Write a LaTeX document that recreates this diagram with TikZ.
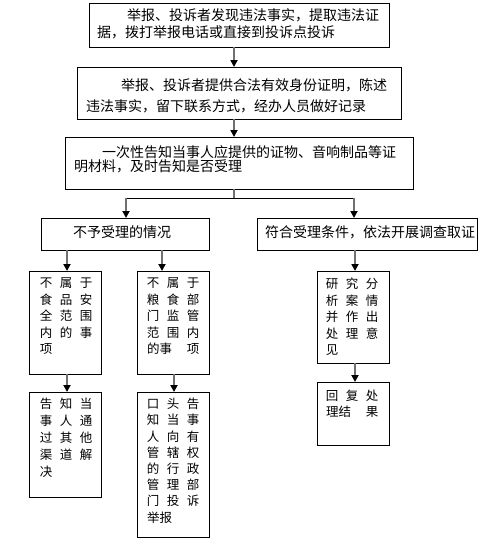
\documentclass[tikz,border=0pt]{standalone}
\usepackage{fontspec}
\newfontfamily\cjk{Noto Sans CJK SC}
\usetikzlibrary{arrows.meta}
\definecolor{ln}{RGB}{112,112,112}
\newcommand\cel[1]{\makebox[20pt]{#1}}
\newcommand\pair[1]{\makebox[40pt][l]{\hspace{4pt}#1}}
\begin{document}
\begin{tikzpicture}[x=1pt,y=-1pt,
 box/.style={draw=black,line width=1pt,anchor=north west,inner sep=0pt,outer sep=0pt},
 big/.style={anchor=west,inner sep=0pt,font=\cjk\fontsize{14pt}{16pt}\selectfont},
 mid/.style={anchor=center,inner sep=0pt,font=\cjk\fontsize{14pt}{16pt}\selectfont},
 sm/.style={anchor=west,inner sep=0pt,font=\cjk\fontsize{12.5pt}{15pt}\selectfont},
 arr/.style={draw=ln,line width=2pt,-{Triangle[width=7pt,length=7pt,color=black]}},
 stub/.style={draw=ln,line width=2pt},
 bar/.style={draw=black,line width=1pt}]
\useasboundingbox (0,0) rectangle (498,541);

% boxes
\node[box,minimum width=300pt,minimum height=44pt] (b1) at (89,3) {};
\node[box,minimum width=324pt,minimum height=52pt] (b2) at (77,67) {};
\node[box,minimum width=348pt,minimum height=52pt] (b3) at (65,137) {};
\node[box,minimum width=168pt,minimum height=32pt] (b4) at (41,218) {};
\node[box,minimum width=220pt,minimum height=32pt] (b5) at (257,218) {};
\node[box,minimum width=72pt,minimum height=103pt] (s1) at (29,271) {};
\node[box,minimum width=72pt,minimum height=103pt] (s2) at (137,271) {};
\node[box,minimum width=72pt,minimum height=105pt] (s3) at (29,392) {};
\node[box,minimum width=72pt,minimum height=145pt] (s4) at (137,392) {};
\node[box,minimum width=72pt,minimum height=92pt] (r1) at (317,271) {};
\node[box,minimum width=72pt,minimum height=63pt] (r2) at (317,382) {};

% main texts
\node[big] (t1a) at (127,15.5) {举报、投诉者发现违法事实，提取违法证};
\node[big] (t1b) at (97,32) {据，拨打举报电话或直接到投诉点投诉};
\node[big] (t2a) at (121,85) {举报、投诉者提供合法有效身份证明，陈述};
\node[big] (t2b) at (86,106) {违法事实，留下联系方式，经办人员做好记录};
\node[big] (t3a) at (102,152) {一次性告知当事人应提供的证物、音响制品等证};
\node[big] (t3b) at (74,166) {明材料，及时告知是否受理};
\node[mid] (t4) at (122,232) {不予受理的情况};
\node[mid] (t5) at (370,232) {符合受理条件，依法开展调查取证};

% small box texts
\node[sm] (s1a) at (36,283) {\cel{不}\cel{属}\cel{于}};
\node[sm] (s1b) at (36,299.5) {\cel{食}\cel{品}\cel{安}};
\node[sm] (s1c) at (36,316) {\cel{全}\cel{范}\cel{围}};
\node[sm] (s1d) at (36,332.5) {\cel{内}\cel{的}\cel{事}};
\node[sm] (s1e) at (36,349) {\cel{项}};

\node[sm] (s2a) at (143,283) {\cel{不}\cel{属}\cel{于}};
\node[sm] (s2b) at (143,299.5) {\cel{粮}\cel{食}\cel{部}};
\node[sm] (s2c) at (143,316) {\cel{门}\cel{监}\cel{管}};
\node[sm] (s2d) at (143,332.5) {\cel{范}\cel{围}\cel{内}};
\node[sm] (s2e) at (143,349) {\pair{的事}\cel{项}};

\node[sm] (s3a) at (36,404) {\cel{告}\cel{知}\cel{当}};
\node[sm] (s3b) at (36,421) {\cel{事}\cel{人}\cel{通}};
\node[sm] (s3c) at (36,438) {\cel{过}\cel{其}\cel{他}};
\node[sm] (s3d) at (36,455) {\cel{渠}\cel{道}\cel{解}};
\node[sm] (s3e) at (36,472) {\cel{决}};

\node[sm] (s4a) at (143,404) {\cel{口}\cel{头}\cel{告}};
\node[sm] (s4b) at (143,420.2) {\cel{知}\cel{当}\cel{事}};
\node[sm] (s4c) at (143,436.4) {\cel{人}\cel{向}\cel{有}};
\node[sm] (s4d) at (143,452.6) {\cel{管}\cel{辖}\cel{权}};
\node[sm] (s4e) at (143,468.8) {\cel{的}\cel{行}\cel{政}};
\node[sm] (s4f) at (143,485) {\cel{管}\cel{理}\cel{部}};
\node[sm] (s4g) at (143,501.2) {\cel{门}\cel{投}\cel{诉}};
\node[sm] (s4h) at (143,517.4) {\pair{举报}};

\node[sm] (r1a) at (322,284) {\cel{研}\cel{究}\cel{分}};
\node[sm] (r1b) at (322,300.5) {\cel{析}\cel{案}\cel{情}};
\node[sm] (r1c) at (322,317) {\cel{并}\cel{作}\cel{出}};
\node[sm] (r1d) at (322,333.5) {\cel{处}\cel{理}\cel{意}};
\node[sm] (r1e) at (322,350) {\cel{见}};

\node[sm] (r2a) at (322,396) {\cel{回}\cel{复}\cel{处}};
\node[sm] (r2b) at (322,412) {\pair{理结}\cel{果}};

% connector x positions
\coordinate (mx) at (234,0);
\coordinate (jm) at (234,198);
\coordinate (jl) at (126,198);
\coordinate (jr) at (354,198);
\coordinate (ax1) at (67,0);
\coordinate (ax2) at (162,0);
\coordinate (ax3) at (174,0);
\coordinate (ax4) at (355,0);

% connectors
\draw[arr] (b1.south -| mx) -- (b2.north -| mx);
\draw[arr] (b2.south -| mx) -- (b3.north -| mx);
\draw[stub] (b3.south -| mx) -- (jm);
\draw[bar] (jl) -- (jr);
\draw[arr] (jl) -- (b4.north -| jl);
\draw[arr] (jr) -- (b5.north -| jr);
\draw[arr] (b4.south -| ax1) -- (s1.north -| ax1);
\draw[arr] (b4.south -| ax2) -- (s2.north -| ax2);
\draw[arr] (s1.south -| ax1) -- (s3.north -| ax1);
\draw[arr] (s2.south -| ax3) -- (s4.north -| ax3);
\draw[arr] (b5.south -| ax4) -- (r1.north -| ax4);
\draw[arr] (r1.south -| ax4) -- (r2.north -| ax4);
\end{tikzpicture}
\end{document}
